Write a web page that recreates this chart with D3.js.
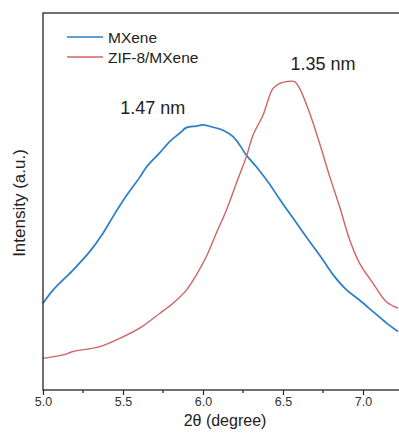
<!DOCTYPE html>
<html><head><meta charset="utf-8">
<script src="https://cdn.jsdelivr.net/npm/d3@7"></script>
<style>body{margin:0;background:#fff}svg{display:block;font-family:"Liberation Sans",Arial,sans-serif}</style>
</head><body><svg id="c" width="399" height="436"></svg>
<script>
const seriesNames = ["MXene", "ZIF-8/MXene"];
const mxeneX = [5.0,5.0625,5.1875,5.2917,5.375,5.4375,5.5208,5.6042,5.6458,5.7292,5.7917,5.8542,5.8958,5.9583,6.0,6.0625,6.125,6.1875,6.2292,6.2708,6.3333,6.4167,6.4792,6.5625,6.6458,6.75,6.8125,6.8958,6.9792,7.0625,7.1458,7.2188];
const mxeneY = [23.0,26.5,31.8,36.7,41.6,46.0,51.5,56.4,59.1,62.9,65.9,68.1,69.6,70.0,70.3,69.7,68.9,67.2,65.0,62.3,59.2,54.6,50.6,45.6,40.6,34.5,30.6,26.6,23.8,20.8,17.8,15.5];
const zifX = [5.0,5.125,5.1875,5.354,5.5,5.604,5.729,5.8125,5.896,5.958,6.021,6.083,6.146,6.208,6.271,6.3125,6.375,6.4375,6.479,6.521,6.573,6.604,6.667,6.729,6.792,6.854,6.917,6.979,7.0625,7.146,7.219];
const zifY = [8.4,9.3,10.2,11.5,14.1,16.4,20.3,23.0,26.5,30.5,35.4,41.6,47.7,54.8,61.9,67.6,72.9,80.0,81.3,81.8,81.8,80.0,73.4,65.4,56.6,48.6,39.8,33.6,28.3,23.4,21.7];
const xTicks = [5.0,5.5,6.0,6.5,7.0];
const xMinor = [5.25,5.75,6.25,6.75,7.25];
const peakLabels = ["1.47 nm","1.35 nm"];
const peakPos = [[5.686,73.2],[6.75,84.9]];

const svg = d3.select("#c");
const x = d3.scaleLinear().domain([5,7.5]).range([43,443]);
const y = d3.scaleLinear().domain([0,100]).range([390,13]);

const line = d3.line().x(d=>x(d[0])).y(d=>y(d[1])).curve(d3.curveCatmullRom.alpha(0.5));
const blue = "#2a7dc6", red = "#d06464";
svg.append("path").datum(mxeneX.map((v,i)=>[v,mxeneY[i]])).attr("d",line)
  .attr("fill","none").attr("stroke",blue).attr("stroke-width",1.7);
svg.append("path").datum(zifX.map((v,i)=>[v,zifY[i]])).attr("d",line)
  .attr("fill","none").attr("stroke",red).attr("stroke-width",1.4);

svg.append("rect").attr("x",43).attr("y",13).attr("width",400).attr("height",377)
  .attr("fill","none").attr("stroke","#222").attr("stroke-width",1.3);

const ax = svg.append("g").attr("transform","translate(0,390)")
  .call(d3.axisBottom(x).tickValues(xTicks).tickFormat(d3.format(".1f")).tickSize(5).tickPadding(2));
ax.select(".domain").remove();
ax.selectAll("text").attr("font-size",12.5).attr("fill","#333").attr("font-family","Liberation Sans, Arial, sans-serif");
ax.selectAll("line").attr("stroke","#222").attr("stroke-width",1.2);
svg.append("g").selectAll("line").data(xMinor).join("line")
  .attr("x1",d=>x(d)).attr("x2",d=>x(d)).attr("y1",390).attr("y2",393)
  .attr("stroke","#222").attr("stroke-width",1.2);

svg.append("text").attr("x",225).attr("y",426).attr("text-anchor","middle")
  .attr("font-size",16).attr("fill","#222").text("2θ (degree)");
svg.append("text").attr("transform","translate(25,203) rotate(-90)").attr("text-anchor","middle")
  .attr("font-size",17).attr("fill","#222").text("Intensity (a.u.)");

const leg = [[blue,37,43],[red,57,63]];
seriesNames.forEach((n,i)=>{
  svg.append("line").attr("x1",67).attr("x2",103).attr("y1",leg[i][1]).attr("y2",leg[i][1])
    .attr("stroke",leg[i][0]).attr("stroke-width",1.6);
  svg.append("text").attr("x",108).attr("y",leg[i][2]).attr("font-size",15.5).attr("fill","#222").text(n);
});

peakLabels.forEach((t,i)=>{
  svg.append("text").attr("x",x(peakPos[i][0])).attr("y",y(peakPos[i][1])).attr("text-anchor","middle")
    .attr("font-size",18).attr("fill","#222").text(t);
});
</script></body></html>
